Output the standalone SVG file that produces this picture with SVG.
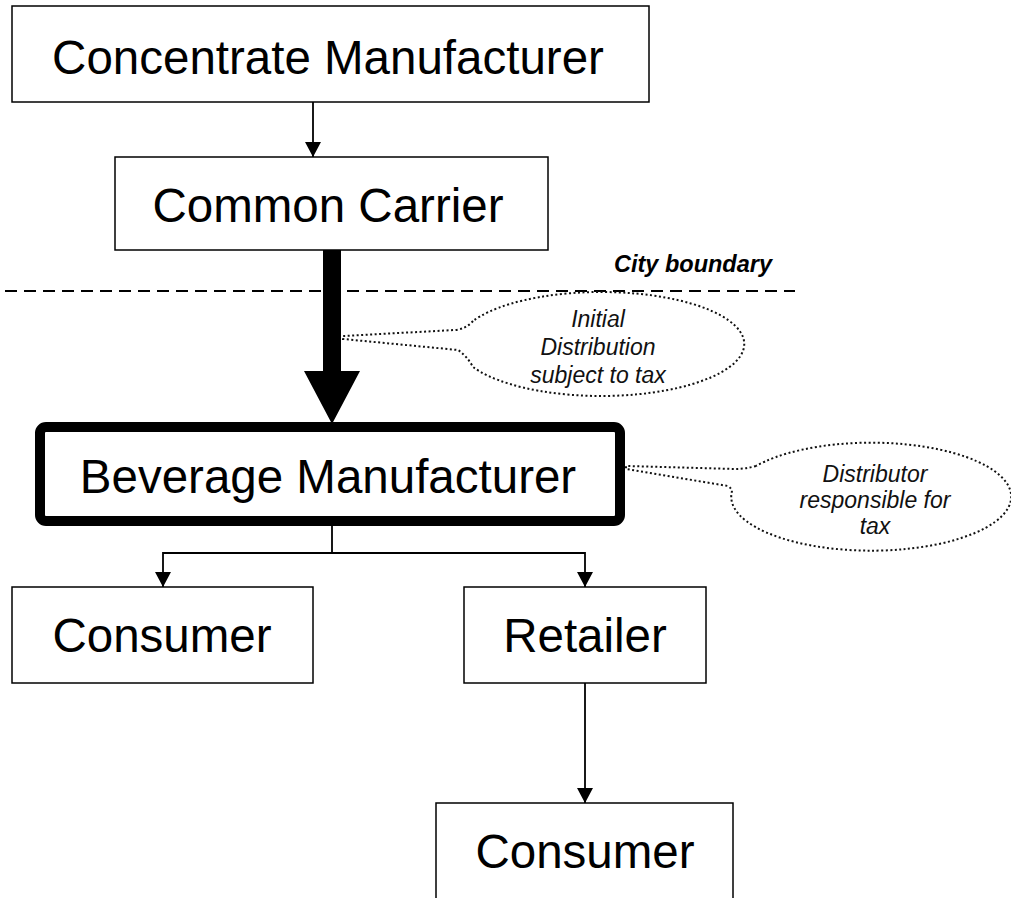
<svg xmlns="http://www.w3.org/2000/svg" width="1011" height="898" viewBox="0 0 1011 898">
<style>
.box{fill:#fff;stroke:#000;stroke-width:1.5}
.big{font-family:"Liberation Sans",Arial,sans-serif;font-size:47.5px;fill:#000;text-anchor:middle}
.note{font-family:"Liberation Sans",Arial,sans-serif;font-size:23px;font-style:italic;fill:#111;text-anchor:middle}
.line{stroke:#000;stroke-width:1.8;fill:none}
.dot{fill:none;stroke:#111;stroke-width:2;stroke-dasharray:2 2.5}
</style>
<defs>
<marker id="ah" viewBox="0 0 15 16" refX="15" refY="8" markerWidth="15" markerHeight="16" markerUnits="userSpaceOnUse" orient="auto">
<path d="M0 0 L15 8 L0 16 Z" fill="#000"/>
</marker>
</defs>
<rect width="1011" height="898" fill="#fff"/>

<g id="boundary">
<line x1="5" y1="291" x2="795" y2="291" stroke="#000" stroke-width="2" stroke-dasharray="12 7"/>
<text x="772" y="272" font-family="'Liberation Sans',Arial,sans-serif" font-size="23.5" font-weight="bold" font-style="italic" text-anchor="end">City boundary</text>
</g>

<g id="connectors">
<line class="line" x1="313" y1="102" x2="313" y2="157" marker-end="url(#ah)"/>
<path d="M323 250 L341 250 L341 371 L360 371 L332 424 L304 371 L323 371 Z" fill="#000"/>
<polyline class="line" points="332,526 332,553 163,553 163,587" marker-end="url(#ah)"/>
<polyline class="line" points="332,553 585,553 585,587" marker-end="url(#ah)"/>
<line class="line" x1="585" y1="683" x2="585" y2="803" marker-end="url(#ah)"/>
</g>

<g id="concentrate">
<rect class="box" x="12" y="6" width="637" height="96"/>
<text class="big" x="328" y="74">Concentrate Manufacturer</text>
</g>

<g id="carrier">
<rect class="box" x="115" y="157" width="433" height="93"/>
<text class="big" x="328" y="222">Common Carrier</text>
</g>

<g id="beverage">
<rect x="40" y="427" width="580" height="94" rx="6" fill="#fff" stroke="#000" stroke-width="10"/>
<text class="big" x="328" y="493">Beverage Manufacturer</text>
</g>

<g id="consumer1">
<rect class="box" x="12" y="587" width="301" height="96"/>
<text class="big" x="162" y="652">Consumer</text>
</g>

<g id="retailer">
<rect class="box" x="464" y="587" width="242" height="96"/>
<text class="big" x="585" y="652">Retailer</text>
</g>

<g id="consumer2">
<rect class="box" x="436" y="803" width="297" height="110"/>
<text class="big" x="585" y="868">Consumer</text>
</g>

<g id="callout1">
<path class="dot" d="M473 321 Q466 329 455 330 L343 336 L343 339 L458 350 Q467 356 473 367 A143 52 0 1 0 473 321"/>
<text class="note" x="598" y="327">Initial</text>
<text class="note" x="598" y="355">Distribution</text>
<text class="note" x="598" y="383">subject to tax</text>
</g>

<g id="callout2">
<path class="dot" d="M756 466 Q745 469 735 469 L626 466 L626 469 L728 486 Q732 489 732 491 A140 54 0 1 0 756 466"/>
<text class="note" x="875" y="482">Distributor</text>
<text class="note" x="875" y="508">responsible for</text>
<text class="note" x="875" y="534">tax</text>
</g>
</svg>
